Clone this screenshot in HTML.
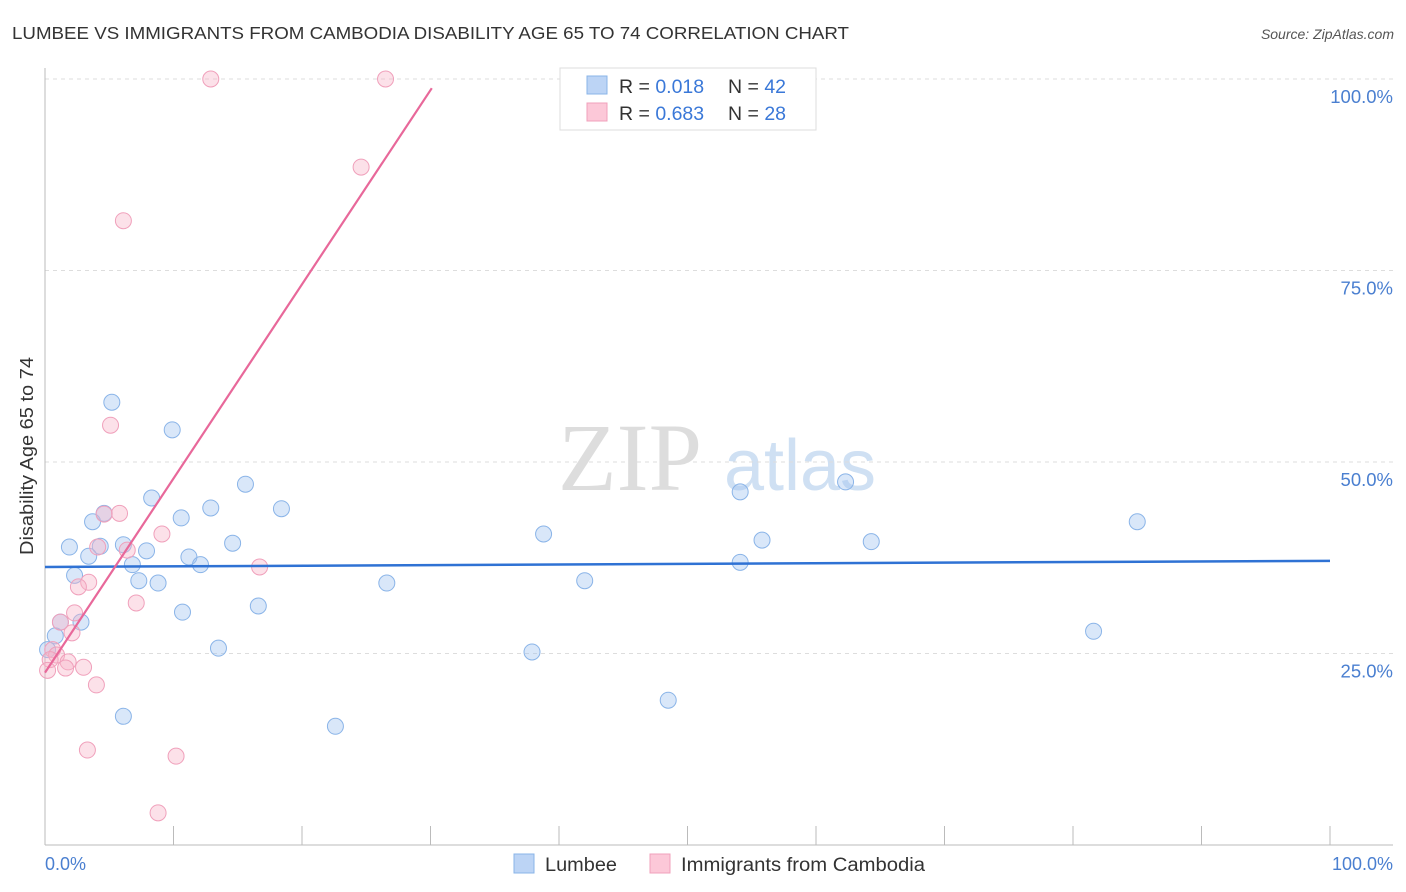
<!DOCTYPE html>
<html><head><meta charset="utf-8"><style>
body{margin:0;background:#fff;font-family:"Liberation Sans",sans-serif}
svg{display:block}
</style></head><body>
<svg width="1406" height="892" font-family="Liberation Sans, sans-serif">
<text x="12" y="39" font-size="17.5" fill="#333" textLength="837" lengthAdjust="spacingAndGlyphs">LUMBEE VS IMMIGRANTS FROM CAMBODIA DISABILITY AGE 65 TO 74 CORRELATION CHART</text>
<text x="1394" y="39" font-size="14" fill="#555" text-anchor="end" font-style="italic">Source: ZipAtlas.com</text>
<text x="630" y="490" font-size="96" fill="#ddd" text-anchor="middle" font-family="Liberation Serif, serif">ZIP</text>
<text x="800" y="490" font-size="72" fill="#cfe0f3" text-anchor="middle">atlas</text>
<g id="grid"></g>
<g id="axes"></g>
<text transform="translate(33,456) rotate(-90)" font-size="18" fill="#333" text-anchor="middle" textLength="198" lengthAdjust="spacingAndGlyphs">Disability Age 65 to 74</text>
<text x="45" y="870" font-size="18" fill="#4a7fd0">0.0%</text>
<text x="1393" y="870" font-size="18" fill="#4a7fd0" text-anchor="end">100.0%</text>
<g id="pts"></g>
<g id="trend"></g>
<g>
<rect x="560" y="68" width="256" height="62" fill="#fff" stroke="#ddd"/>
<rect x="587" y="76" width="20" height="18" fill="#bcd4f5" stroke="#8ab4e8"/>
<rect x="587" y="103" width="20" height="18" fill="#fcc8d8" stroke="#f0a0bb"/>
<text x="619" y="93" font-size="19.5" fill="#333">R = <tspan fill="#3a78d8">0.018</tspan><tspan x="728">N = </tspan><tspan fill="#3a78d8">42</tspan></text>
<text x="619" y="120" font-size="19.5" fill="#333">R = <tspan fill="#3a78d8">0.683</tspan><tspan x="728">N = </tspan><tspan fill="#3a78d8">28</tspan></text>
</g>
<g>
<rect x="514" y="854" width="20" height="19" fill="#bcd4f5" stroke="#8ab4e8"/>
<text x="545" y="871" font-size="19" fill="#333" textLength="72" lengthAdjust="spacingAndGlyphs">Lumbee</text>
<rect x="650" y="854" width="20" height="19" fill="#fcc8d8" stroke="#f0a0bb"/>
<text x="681" y="871" font-size="19" fill="#333" textLength="244" lengthAdjust="spacingAndGlyphs">Immigrants from Cambodia</text>
</g>
</svg>
<script>
const yTicks=[25,50,75,100];
const yTickLabels=["25.0%","50.0%","75.0%","100.0%"];
const blueX=[5.2,9.9,15.6,8.3,18.4,12.9,10.6,4.6,3.7,1.9,4.3,6.1,7.9,3.4,11.2,6.8,12.1,14.6,2.3,7.3,8.8,1.2,2.8,10.7,16.6,0.8,0.2,13.5,6.1,22.6,26.6,38.8,37.9,42.0,48.5,54.1,54.1,55.8,62.3,64.3,81.6,85.0];
const blueY=[57.8,54.2,47.1,45.3,43.9,44.0,42.7,43.3,42.2,38.9,39.0,39.2,38.4,37.7,37.6,36.6,36.6,39.4,35.2,34.5,34.2,29.1,29.1,30.4,31.2,27.3,25.5,25.7,16.8,15.5,34.2,40.6,25.2,34.5,18.9,46.1,36.9,39.8,47.4,39.6,27.9,42.2];
const pinkX=[12.9,26.5,24.6,6.1,5.1,5.8,4.6,9.1,4.1,6.4,16.7,3.4,2.6,7.1,2.3,2.1,1.2,0.6,0.9,0.4,1.8,1.6,3.0,4.0,3.3,10.2,8.8,0.2];
const pinkY=[100,100,88.5,81.5,54.8,43.3,43.2,40.6,38.9,38.5,36.3,34.3,33.7,31.6,30.3,27.7,29.1,25.5,24.8,24.2,23.9,23.1,23.2,20.9,12.4,11.6,4.2,22.8];
const blueTrendX=[0,100],blueTrendY=[36.3,37.1];
const pinkTrendX=[0,30.1],pinkTrendY=[22.5,98.8];
const NS="http://www.w3.org/2000/svg";
const X0=45,X1=1330,Y0=845,Y100=79;
const sx=v=>X0+(X1-X0)*v/100, sy=v=>Y0-(Y0-Y100)*v/100;
function mk(t,a,p){const e=document.createElementNS(NS,t);for(const k in a)e.setAttribute(k,a[k]);p.appendChild(e);return e;}
const grid=document.getElementById('grid');
yTicks.forEach((t,i)=>{
 const l=mk('line',{x1:X0,x2:1393,y1:sy(t),y2:sy(t),stroke:'#ddd','stroke-dasharray':'4,4'},grid);
 
 
 const tx=mk('text',{x:1393,y:sy(t)+24,'font-size':18.5,fill:'#4a7fd0','text-anchor':'end'},grid);
 tx.textContent=yTickLabels[i];
 
 
});
const ax=document.getElementById('axes');
const xa=mk('line',{x1:X0,x2:1393,y1:Y0,y2:Y0,stroke:'#bbb'},ax);


const ya=mk('line',{x1:X0,x2:X0,y1:68,y2:Y0,stroke:'#bbb'},ax);


for(let i=0;i<=10;i++){
 const t=mk('line',{x1:sx(i*10),x2:sx(i*10),y1:826,y2:Y0,stroke:'#bbb'},ax);
 
 
}
const pts=document.getElementById('pts');
function dots(xs,ys,fill,stroke,name){xs.forEach((x,i)=>{
 const c=mk('circle',{cx:sx(x),cy:sy(ys[i]),r:8,fill:fill,stroke:stroke,'stroke-width':1},pts);
 
 
});}
dots(blueX,blueY,'rgba(160,195,240,0.4)','#8ab4e8','lumbee-point');
dots(pinkX,pinkY,'rgba(248,180,200,0.4)','#f0a0bb','cambodia-point');
const tr=document.getElementById('trend');
const b=mk('line',{x1:sx(blueTrendX[0]),y1:sy(blueTrendY[0]),x2:sx(blueTrendX[1]),y2:sy(blueTrendY[1]),stroke:'#2f72d4','stroke-width':2.5},tr);


const p=mk('line',{x1:sx(pinkTrendX[0]),y1:sy(pinkTrendY[0]),x2:sx(pinkTrendX[1]),y2:sy(pinkTrendY[1]),stroke:'#e8689a','stroke-width':2.2},tr);


</script>
</body></html>
